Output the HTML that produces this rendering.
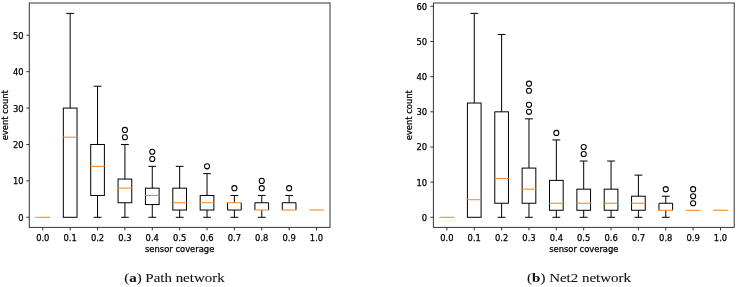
<!DOCTYPE html>
<html><head><meta charset="utf-8"><title>Box plots</title>
<style>
html,body{margin:0;padding:0;background:#fff}
svg{display:block}
svg text{font-family:"DejaVu Sans","Liberation Sans",sans-serif;font-size:8.4px;fill:#000;stroke:#000;stroke-width:0.25px}
svg text.cap{font-family:"Liberation Serif","DejaVu Serif",serif;font-size:13.1px;fill:#111;stroke:#111;stroke-width:0.08px}
</style></head>
<body>
<svg width="738" height="287" viewBox="0 0 738 287">
<rect width="738" height="287" fill="#fff"/>
<g>
<path d="M35.96 217.30H49.64" stroke="#ff7f0e" stroke-width="1.0" stroke-linecap="square"/>
<rect x="63.33" y="108.07" width="13.69" height="109.23" fill="none" stroke="#000" stroke-width="1.0"/>
<path d="M70.17 108.07V13.40" stroke="#000" stroke-width="1.0"/>
<path d="M66.75 13.40H73.59" stroke="#000" stroke-width="1.0" stroke-linecap="square"/>
<path d="M63.33 137.20H77.01" stroke="#ff7f0e" stroke-width="1.0" stroke-linecap="square"/>
<rect x="90.70" y="144.48" width="13.69" height="50.97" fill="none" stroke="#000" stroke-width="1.0"/>
<path d="M97.54 144.48V86.22" stroke="#000" stroke-width="1.0"/>
<path d="M97.54 195.45V217.30" stroke="#000" stroke-width="1.0"/>
<path d="M94.12 86.22H100.96M94.12 217.30H100.96" stroke="#000" stroke-width="1.0" stroke-linecap="square"/>
<path d="M90.70 166.33H104.38" stroke="#ff7f0e" stroke-width="1.0" stroke-linecap="square"/>
<rect x="118.07" y="179.07" width="13.69" height="23.67" fill="none" stroke="#000" stroke-width="1.0"/>
<path d="M124.91 179.07V144.48" stroke="#000" stroke-width="1.0"/>
<path d="M124.91 202.74V217.30" stroke="#000" stroke-width="1.0"/>
<path d="M121.49 144.48H128.33M121.49 217.30H128.33" stroke="#000" stroke-width="1.0" stroke-linecap="square"/>
<path d="M118.07 188.17H131.75" stroke="#ff7f0e" stroke-width="1.0" stroke-linecap="square"/>
<circle cx="124.91" cy="137.20" r="2.55" fill="none" stroke="#000" stroke-width="1.05"/>
<circle cx="124.91" cy="129.92" r="2.55" fill="none" stroke="#000" stroke-width="1.05"/>
<rect x="145.44" y="188.17" width="13.69" height="16.38" fill="none" stroke="#000" stroke-width="1.0"/>
<path d="M152.28 188.17V166.33" stroke="#000" stroke-width="1.0"/>
<path d="M152.28 204.56V217.30" stroke="#000" stroke-width="1.0"/>
<path d="M148.86 166.33H155.70M148.86 217.30H155.70" stroke="#000" stroke-width="1.0" stroke-linecap="square"/>
<path d="M145.44 195.45H159.12" stroke="#ff7f0e" stroke-width="1.0" stroke-linecap="square"/>
<circle cx="152.28" cy="159.04" r="2.55" fill="none" stroke="#000" stroke-width="1.05"/>
<circle cx="152.28" cy="151.76" r="2.55" fill="none" stroke="#000" stroke-width="1.05"/>
<rect x="172.81" y="188.17" width="13.69" height="21.85" fill="none" stroke="#000" stroke-width="1.0"/>
<path d="M179.65 188.17V166.33" stroke="#000" stroke-width="1.0"/>
<path d="M179.65 210.02V217.30" stroke="#000" stroke-width="1.0"/>
<path d="M176.23 166.33H183.07M176.23 217.30H183.07" stroke="#000" stroke-width="1.0" stroke-linecap="square"/>
<path d="M172.81 202.74H186.49" stroke="#ff7f0e" stroke-width="1.0" stroke-linecap="square"/>
<rect x="200.18" y="195.45" width="13.69" height="14.56" fill="none" stroke="#000" stroke-width="1.0"/>
<path d="M207.02 195.45V173.61" stroke="#000" stroke-width="1.0"/>
<path d="M207.02 210.02V217.30" stroke="#000" stroke-width="1.0"/>
<path d="M203.60 173.61H210.44M203.60 217.30H210.44" stroke="#000" stroke-width="1.0" stroke-linecap="square"/>
<path d="M200.18 202.74H213.86" stroke="#ff7f0e" stroke-width="1.0" stroke-linecap="square"/>
<circle cx="207.02" cy="166.33" r="2.55" fill="none" stroke="#000" stroke-width="1.05"/>
<path d="M227.55 202.74V210.02H241.23V202.74" fill="none" stroke="#000" stroke-width="1.0"/>
<path d="M234.39 202.74V195.45" stroke="#000" stroke-width="1.0"/>
<path d="M234.39 210.02V217.30" stroke="#000" stroke-width="1.0"/>
<path d="M230.97 195.45H237.81M230.97 217.30H237.81" stroke="#000" stroke-width="1.0" stroke-linecap="square"/>
<path d="M227.55 202.74H241.23" stroke="#ff7f0e" stroke-width="1.0" stroke-linecap="square"/>
<circle cx="234.39" cy="188.17" r="2.55" fill="none" stroke="#000" stroke-width="1.05"/>
<path d="M254.92 210.02V202.74H268.60V210.02" fill="none" stroke="#000" stroke-width="1.0"/>
<path d="M261.76 202.74V195.45" stroke="#000" stroke-width="1.0"/>
<path d="M261.76 210.02V217.30" stroke="#000" stroke-width="1.0"/>
<path d="M258.34 195.45H265.18M258.34 217.30H265.18" stroke="#000" stroke-width="1.0" stroke-linecap="square"/>
<path d="M254.92 210.02H268.60" stroke="#ff7f0e" stroke-width="1.0" stroke-linecap="square"/>
<circle cx="261.76" cy="188.17" r="2.55" fill="none" stroke="#000" stroke-width="1.05"/>
<circle cx="261.76" cy="180.89" r="2.55" fill="none" stroke="#000" stroke-width="1.05"/>
<path d="M282.29 210.02V202.74H295.97V210.02" fill="none" stroke="#000" stroke-width="1.0"/>
<path d="M289.13 202.74V195.45" stroke="#000" stroke-width="1.0"/>
<path d="M285.71 195.45H292.55" stroke="#000" stroke-width="1.0" stroke-linecap="square"/>
<path d="M282.29 210.02H295.97" stroke="#ff7f0e" stroke-width="1.0" stroke-linecap="square"/>
<circle cx="289.13" cy="188.17" r="2.55" fill="none" stroke="#000" stroke-width="1.05"/>
<path d="M309.66 210.02H323.34" stroke="#ff7f0e" stroke-width="1.0" stroke-linecap="square"/>
<rect x="29.30" y="3.00" width="300.70" height="224.40" fill="none" stroke="#333" stroke-width="1.0"/>
<text x="42.80" y="240.60" text-anchor="middle">0.0</text>
<text x="70.17" y="240.60" text-anchor="middle">0.1</text>
<text x="97.54" y="240.60" text-anchor="middle">0.2</text>
<text x="124.91" y="240.60" text-anchor="middle">0.3</text>
<text x="152.28" y="240.60" text-anchor="middle">0.4</text>
<text x="179.65" y="240.60" text-anchor="middle">0.5</text>
<text x="207.02" y="240.60" text-anchor="middle">0.6</text>
<text x="234.39" y="240.60" text-anchor="middle">0.7</text>
<text x="261.76" y="240.60" text-anchor="middle">0.8</text>
<text x="289.13" y="240.60" text-anchor="middle">0.9</text>
<text x="316.50" y="240.60" text-anchor="middle">1.0</text>
<text x="23.70" y="220.80" text-anchor="end">0</text>
<text x="23.70" y="184.39" text-anchor="end">10</text>
<text x="23.70" y="147.98" text-anchor="end">20</text>
<text x="23.70" y="111.57" text-anchor="end">30</text>
<text x="23.70" y="75.16" text-anchor="end">40</text>
<text x="23.70" y="38.75" text-anchor="end">50</text>
<path d="M42.80 227.40v3M70.17 227.40v3M97.54 227.40v3M124.91 227.40v3M152.28 227.40v3M179.65 227.40v3M207.02 227.40v3M234.39 227.40v3M261.76 227.40v3M289.13 227.40v3M316.50 227.40v3M29.30 217.30h-3M29.30 180.89h-3M29.30 144.48h-3M29.30 108.07h-3M29.30 71.66h-3M29.30 35.25h-3" stroke="#333" stroke-width="1.0"/>
<text x="179.65" y="251.60" text-anchor="middle">sensor coverage</text>
<text transform="translate(8.10 115.20) rotate(-90)" text-anchor="middle">event count</text>
</g>
<g>
<path d="M440.06 217.30H453.74" stroke="#ff7f0e" stroke-width="1.0" stroke-linecap="square"/>
<rect x="467.42" y="103.03" width="13.68" height="114.27" fill="none" stroke="#000" stroke-width="1.0"/>
<path d="M474.26 103.03V13.37" stroke="#000" stroke-width="1.0"/>
<path d="M470.84 13.37H477.68" stroke="#000" stroke-width="1.0" stroke-linecap="square"/>
<path d="M467.42 199.72H481.10" stroke="#ff7f0e" stroke-width="1.0" stroke-linecap="square"/>
<rect x="494.78" y="111.82" width="13.68" height="91.42" fill="none" stroke="#000" stroke-width="1.0"/>
<path d="M501.62 111.82V34.47" stroke="#000" stroke-width="1.0"/>
<path d="M501.62 203.24V217.30" stroke="#000" stroke-width="1.0"/>
<path d="M498.20 34.47H505.04M498.20 217.30H505.04" stroke="#000" stroke-width="1.0" stroke-linecap="square"/>
<path d="M494.78 178.62H508.46" stroke="#ff7f0e" stroke-width="1.0" stroke-linecap="square"/>
<rect x="522.14" y="168.08" width="13.68" height="35.16" fill="none" stroke="#000" stroke-width="1.0"/>
<path d="M528.98 168.08V118.85" stroke="#000" stroke-width="1.0"/>
<path d="M528.98 203.24V217.30" stroke="#000" stroke-width="1.0"/>
<path d="M525.56 118.85H532.40M525.56 217.30H532.40" stroke="#000" stroke-width="1.0" stroke-linecap="square"/>
<path d="M522.14 189.17H535.82" stroke="#ff7f0e" stroke-width="1.0" stroke-linecap="square"/>
<circle cx="528.98" cy="111.82" r="2.55" fill="none" stroke="#000" stroke-width="1.05"/>
<circle cx="528.98" cy="104.79" r="2.55" fill="none" stroke="#000" stroke-width="1.05"/>
<circle cx="528.98" cy="90.72" r="2.55" fill="none" stroke="#000" stroke-width="1.05"/>
<circle cx="528.98" cy="83.69" r="2.55" fill="none" stroke="#000" stroke-width="1.05"/>
<rect x="549.50" y="180.38" width="13.68" height="29.89" fill="none" stroke="#000" stroke-width="1.0"/>
<path d="M556.34 180.38V139.95" stroke="#000" stroke-width="1.0"/>
<path d="M556.34 210.27V217.30" stroke="#000" stroke-width="1.0"/>
<path d="M552.92 139.95H559.76M552.92 217.30H559.76" stroke="#000" stroke-width="1.0" stroke-linecap="square"/>
<path d="M549.50 203.24H563.18" stroke="#ff7f0e" stroke-width="1.0" stroke-linecap="square"/>
<circle cx="556.34" cy="132.92" r="2.55" fill="none" stroke="#000" stroke-width="1.05"/>
<rect x="576.86" y="189.17" width="13.68" height="21.10" fill="none" stroke="#000" stroke-width="1.0"/>
<path d="M583.70 189.17V161.04" stroke="#000" stroke-width="1.0"/>
<path d="M583.70 210.27V217.30" stroke="#000" stroke-width="1.0"/>
<path d="M580.28 161.04H587.12M580.28 217.30H587.12" stroke="#000" stroke-width="1.0" stroke-linecap="square"/>
<path d="M576.86 203.24H590.54" stroke="#ff7f0e" stroke-width="1.0" stroke-linecap="square"/>
<circle cx="583.70" cy="154.01" r="2.55" fill="none" stroke="#000" stroke-width="1.05"/>
<circle cx="583.70" cy="146.98" r="2.55" fill="none" stroke="#000" stroke-width="1.05"/>
<rect x="604.22" y="189.17" width="13.68" height="21.10" fill="none" stroke="#000" stroke-width="1.0"/>
<path d="M611.06 189.17V161.04" stroke="#000" stroke-width="1.0"/>
<path d="M611.06 210.27V217.30" stroke="#000" stroke-width="1.0"/>
<path d="M607.64 161.04H614.48M607.64 217.30H614.48" stroke="#000" stroke-width="1.0" stroke-linecap="square"/>
<path d="M604.22 203.24H617.90" stroke="#ff7f0e" stroke-width="1.0" stroke-linecap="square"/>
<rect x="631.58" y="196.20" width="13.68" height="14.06" fill="none" stroke="#000" stroke-width="1.0"/>
<path d="M638.42 196.20V175.11" stroke="#000" stroke-width="1.0"/>
<path d="M638.42 210.27V217.30" stroke="#000" stroke-width="1.0"/>
<path d="M635.00 175.11H641.84M635.00 217.30H641.84" stroke="#000" stroke-width="1.0" stroke-linecap="square"/>
<path d="M631.58 203.24H645.26" stroke="#ff7f0e" stroke-width="1.0" stroke-linecap="square"/>
<path d="M658.94 210.27V203.24H672.62V210.27" fill="none" stroke="#000" stroke-width="1.0"/>
<path d="M665.78 203.24V196.20" stroke="#000" stroke-width="1.0"/>
<path d="M665.78 210.27V217.30" stroke="#000" stroke-width="1.0"/>
<path d="M662.36 196.20H669.20M662.36 217.30H669.20" stroke="#000" stroke-width="1.0" stroke-linecap="square"/>
<path d="M658.94 210.27H672.62" stroke="#ff7f0e" stroke-width="1.0" stroke-linecap="square"/>
<circle cx="665.78" cy="189.17" r="2.55" fill="none" stroke="#000" stroke-width="1.05"/>
<path d="M686.30 210.27H699.98" stroke="#ff7f0e" stroke-width="1.0" stroke-linecap="square"/>
<circle cx="693.14" cy="203.24" r="2.55" fill="none" stroke="#000" stroke-width="1.05"/>
<circle cx="693.14" cy="196.20" r="2.55" fill="none" stroke="#000" stroke-width="1.05"/>
<circle cx="693.14" cy="189.17" r="2.55" fill="none" stroke="#000" stroke-width="1.05"/>
<path d="M713.66 210.27H727.34" stroke="#ff7f0e" stroke-width="1.0" stroke-linecap="square"/>
<rect x="433.40" y="3.00" width="300.80" height="224.40" fill="none" stroke="#333" stroke-width="1.0"/>
<text x="446.90" y="240.60" text-anchor="middle">0.0</text>
<text x="474.26" y="240.60" text-anchor="middle">0.1</text>
<text x="501.62" y="240.60" text-anchor="middle">0.2</text>
<text x="528.98" y="240.60" text-anchor="middle">0.3</text>
<text x="556.34" y="240.60" text-anchor="middle">0.4</text>
<text x="583.70" y="240.60" text-anchor="middle">0.5</text>
<text x="611.06" y="240.60" text-anchor="middle">0.6</text>
<text x="638.42" y="240.60" text-anchor="middle">0.7</text>
<text x="665.78" y="240.60" text-anchor="middle">0.8</text>
<text x="693.14" y="240.60" text-anchor="middle">0.9</text>
<text x="720.50" y="240.60" text-anchor="middle">1.0</text>
<text x="427.10" y="220.80" text-anchor="end">0</text>
<text x="427.10" y="185.64" text-anchor="end">10</text>
<text x="427.10" y="150.48" text-anchor="end">20</text>
<text x="427.10" y="115.32" text-anchor="end">30</text>
<text x="427.10" y="80.16" text-anchor="end">40</text>
<text x="427.10" y="45.00" text-anchor="end">50</text>
<text x="427.10" y="9.84" text-anchor="end">60</text>
<path d="M446.90 227.40v3M474.26 227.40v3M501.62 227.40v3M528.98 227.40v3M556.34 227.40v3M583.70 227.40v3M611.06 227.40v3M638.42 227.40v3M665.78 227.40v3M693.14 227.40v3M720.50 227.40v3M433.40 217.30h-3M433.40 182.14h-3M433.40 146.98h-3M433.40 111.82h-3M433.40 76.66h-3M433.40 41.50h-3M433.40 6.34h-3" stroke="#333" stroke-width="1.0"/>
<text x="583.80" y="251.60" text-anchor="middle">sensor coverage</text>
<text transform="translate(411.70 115.20) rotate(-90)" text-anchor="middle">event count</text>
</g>
<text class="cap" id="ca" transform="translate(174.4 282.3) rotate(0.02) scale(1.142 1)" text-anchor="middle">(<tspan font-weight="bold">a</tspan>) Path network</text>
<text class="cap" id="cb" transform="translate(579.0 282.3) rotate(0.02) scale(1.142 1)" text-anchor="middle">(<tspan font-weight="bold">b</tspan>) Net2 network</text>
</svg>
</body></html>
